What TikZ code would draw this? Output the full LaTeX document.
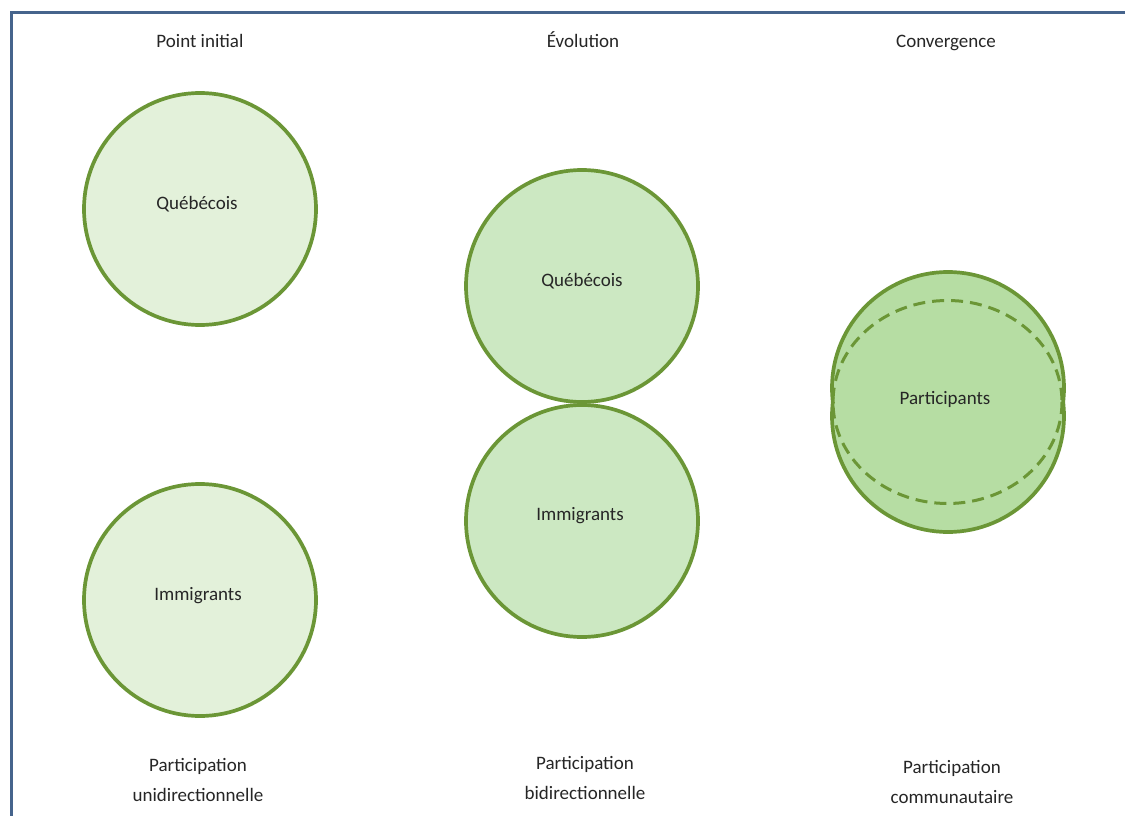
\documentclass[tikz,border=0pt]{standalone}
\usepackage{fontspec}
\setmainfont{Carlito}
\definecolor{frameblue}{HTML}{46648C}
\definecolor{ringgreen}{HTML}{6B9636}
\definecolor{fillA}{HTML}{E3F1DA}
\definecolor{fillB}{HTML}{CCE8C2}
\definecolor{fillC}{HTML}{B6DDA3}
\tikzset{
  lbl/.style={font=\fontsize{19}{30}\selectfont, align=center, text=black!85},
  ring/.style={circle, minimum size=232pt, inner sep=0pt, draw=ringgreen, line width=3.7pt},
}
\begin{document}
\begin{tikzpicture}[x=1pt,y=-1pt]
\useasboundingbox (0,0) rectangle (1125,816);
\fill[white] (0,0) rectangle (1125,816);
% frame
\draw[frameblue, line width=3.5pt] (11.5,830) -- (11.5,12.5) -- (1130,12.5);
% headers
\node[lbl, anchor=base] (h1) at (200,48) {Point initial};
\node[lbl, anchor=base] (h2) at (583,48) {Évolution};
\node[lbl, anchor=base] (h3) at (946,48) {Convergence};
% left column
\node[ring, fill=fillA, label={[lbl, xshift=-3pt, yshift=5pt]center:Québécois}] (q1) at (200,209) {};
\node[ring, fill=fillA, label={[lbl, xshift=-2pt, yshift=4pt]center:Immigrants}] (i1) at (200,600) {};
% middle column
\node[ring, fill=fillB, label={[lbl, yshift=5pt]center:Québécois}] (q2) at (582,286) {};
\node[ring, fill=fillB, label={[lbl, xshift=-2pt, yshift=5pt]center:Immigrants}] (i2) at (582,521) {};
% right column: merged circles
\coordinate (cu) at (948,388);
\coordinate (cl) at (948,416);
\fill[fillC] (cu) circle[radius=116];
\fill[fillC] (cl) circle[radius=116];
\begin{scope}
  \clip (800,250) rectangle (1100,402);
  \draw[ringgreen, line width=3.7pt] (cu) circle[radius=116];
\end{scope}
\begin{scope}
  \clip (800,402) rectangle (1100,560);
  \draw[ringgreen, line width=3.7pt] (cl) circle[radius=116];
\end{scope}
\draw[ringgreen, line width=3pt, dashed, dash pattern=on 12pt off 7pt] (947.5,402) ellipse[x radius=114.5, y radius=101.5];
\node[lbl] (p3) at (945,399) {Participants};
% bottom labels
\node[lbl] (b1) at (198,780) {Participation\\unidirectionnelle};
\node[lbl] (b2) at (585,778) {Participation\\bidirectionnelle};
\node[lbl] (b3) at (952,782) {Participation\\communautaire};
\end{tikzpicture}
\end{document}
